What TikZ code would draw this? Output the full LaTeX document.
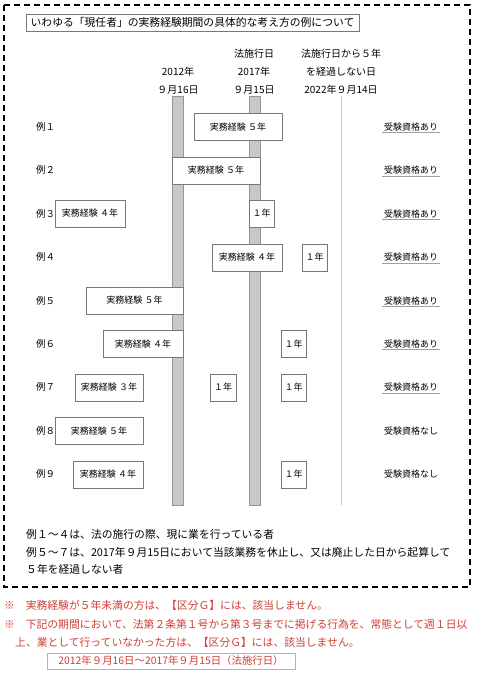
\documentclass[tikz,border=0pt]{standalone}
\usepackage{fontspec}
\setmainfont{Noto Sans CJK JP}
\definecolor{cbar}{RGB}{200,200,200}
\definecolor{cbaredge}{RGB}{150,150,150}
\definecolor{cbox}{RGB}{120,120,120}
\definecolor{cred}{RGB}{206,62,52}
\newcommand{\jfs}[1]{\fontsize{#1}{#1}\selectfont}
\tikzset{genin/.style={x=1pt,y=-1pt,font=\jfs{9}},
  keiken/.style={draw=cbox,fill=white,minimum height=27pt,inner sep=0pt,font=\jfs{9}},
  hdr/.style={align=center,font=\fontsize{10}{18}\selectfont,inner sep=0pt},
  note/.style={anchor=west,inner sep=0pt,font=\jfs{10.8}}}

\begin{document}
\begin{tikzpicture}[genin]
    \useasboundingbox (0,0) rectangle (476,676);
    \def\top{96}\def\bot{505}
    \draw[line width=1.3pt,dash pattern=on 6pt off 4pt] (4,5) rectangle (470,587);
    \node[draw=cbox,minimum width=333pt,minimum height=17pt,inner sep=0pt,font=\jfs{10.8}] (title) at (192.5,22.5)
      {いわゆる「現任者」の実務経験期間の具体的な考え方の例について};
    % dates
    \node[hdr] (d2012) at (178,81) {2012年\\９月16日};
    \node[hdr] (d2017) at (254,72) {法施行日\\2017年\\９月15日};
    \node[hdr] (d2022) at (341,72) {法施行日から５年\\を経過しない日\\2022年９月14日};
    \fill[cbar,draw=cbaredge] (172,\top) rectangle (183,\bot);
    \fill[cbar,draw=cbaredge] (249,\top) rectangle (260,\bot);
    \draw[cbar,line width=0.8pt] (341,\top) -- (341,\bot);
    \foreach \i/\d in {1/１,2/２,3/３,4/４,5/５,6/６,7/７,8/８,9/９}
      \node[anchor=west,inner sep=0pt,font=\jfs{9.5}] (lab\i) at (36,{127+43.4*(\i-1)}) {例\d};
    \foreach \i in {1,...,7} {
      \node[inner sep=1.5pt] (q\i) at (411,{127+43.4*(\i-1)}) {受験資格あり};
      \draw[cbar!80!black,line width=1pt] (q\i.south west) -- (q\i.south east);
    }
    \foreach \i in {8,9}
      \node[inner sep=1.5pt] (q\i) at (411,{127+43.4*(\i-1)}) {受験資格なし};
    % experience
    \node[keiken,minimum width=88pt] (ex1) at (238,127) {実務経験 ５年};
    \node[keiken,minimum width=88pt] (ex2) at (216,170.5) {実務経験 ５年};
    \node[keiken,minimum width=70pt] (ex3) at (90,213.5) {実務経験 ４年};
    \node[keiken,minimum width=25pt] (ex3b) at (261.5,213.5) {１年};
    \node[keiken,minimum width=70pt] (ex4) at (247,257.5) {実務経験 ４年};
    \node[keiken,minimum width=25pt] (ex4b) at (314.5,257.5) {１年};
    \node[keiken,minimum width=97pt] (ex5) at (134.5,300.5) {実務経験 ５年};
    \node[keiken,minimum width=80pt] (ex6) at (143,344) {実務経験 ４年};
    \node[keiken,minimum width=25pt] (ex6b) at (293.5,344) {１年};
    \node[keiken,minimum width=68pt] (ex7) at (109,387.5) {実務経験 ３年};
    \node[keiken,minimum width=26pt] (ex7b) at (223,387.5) {１年};
    \node[keiken,minimum width=25pt] (ex7c) at (293.5,387.5) {１年};
    \node[keiken,minimum width=88pt] (ex8) at (99,431) {実務経験 ５年};
    \node[keiken,minimum width=70pt] (ex9) at (108,474.5) {実務経験 ４年};
    \node[keiken,minimum width=25pt] (ex9b) at (293.5,474.5) {１年};
    % notes
    \node[note] (n1) at (26,534) {例１～４は、法の施行の際、現に業を行っている者};
    \node[note] (n2) at (26,552) {例５～７は、2017年９月15日において当該業務を休止し、又は廃止した日から起算して};
    \node[note] (n3) at (26,569) {５年を経過しない者};
    \node[note,text=cred] (r1) at (4,605) {※　実務経験が５年未満の方は、【区分Ｇ】には、該当しません。};
    \node[note,text=cred] (r2) at (4,624) {※　下記の期間において、法第２条第１号から第３号までに掲げる行為を、常態として週１日以};
    \node[note,text=cred] (r3) at (15,642) {上、業として行っていなかった方は、【区分Ｇ】には、該当しません。};
    \node[draw=cred!50,text=cred,minimum width=248pt,minimum height=16pt,inner sep=0pt,font=\jfs{10.4}] (kikan) at (171,661)
      {2012年９月16日～2017年９月15日（法施行日）};
\end{tikzpicture}
\end{document}
